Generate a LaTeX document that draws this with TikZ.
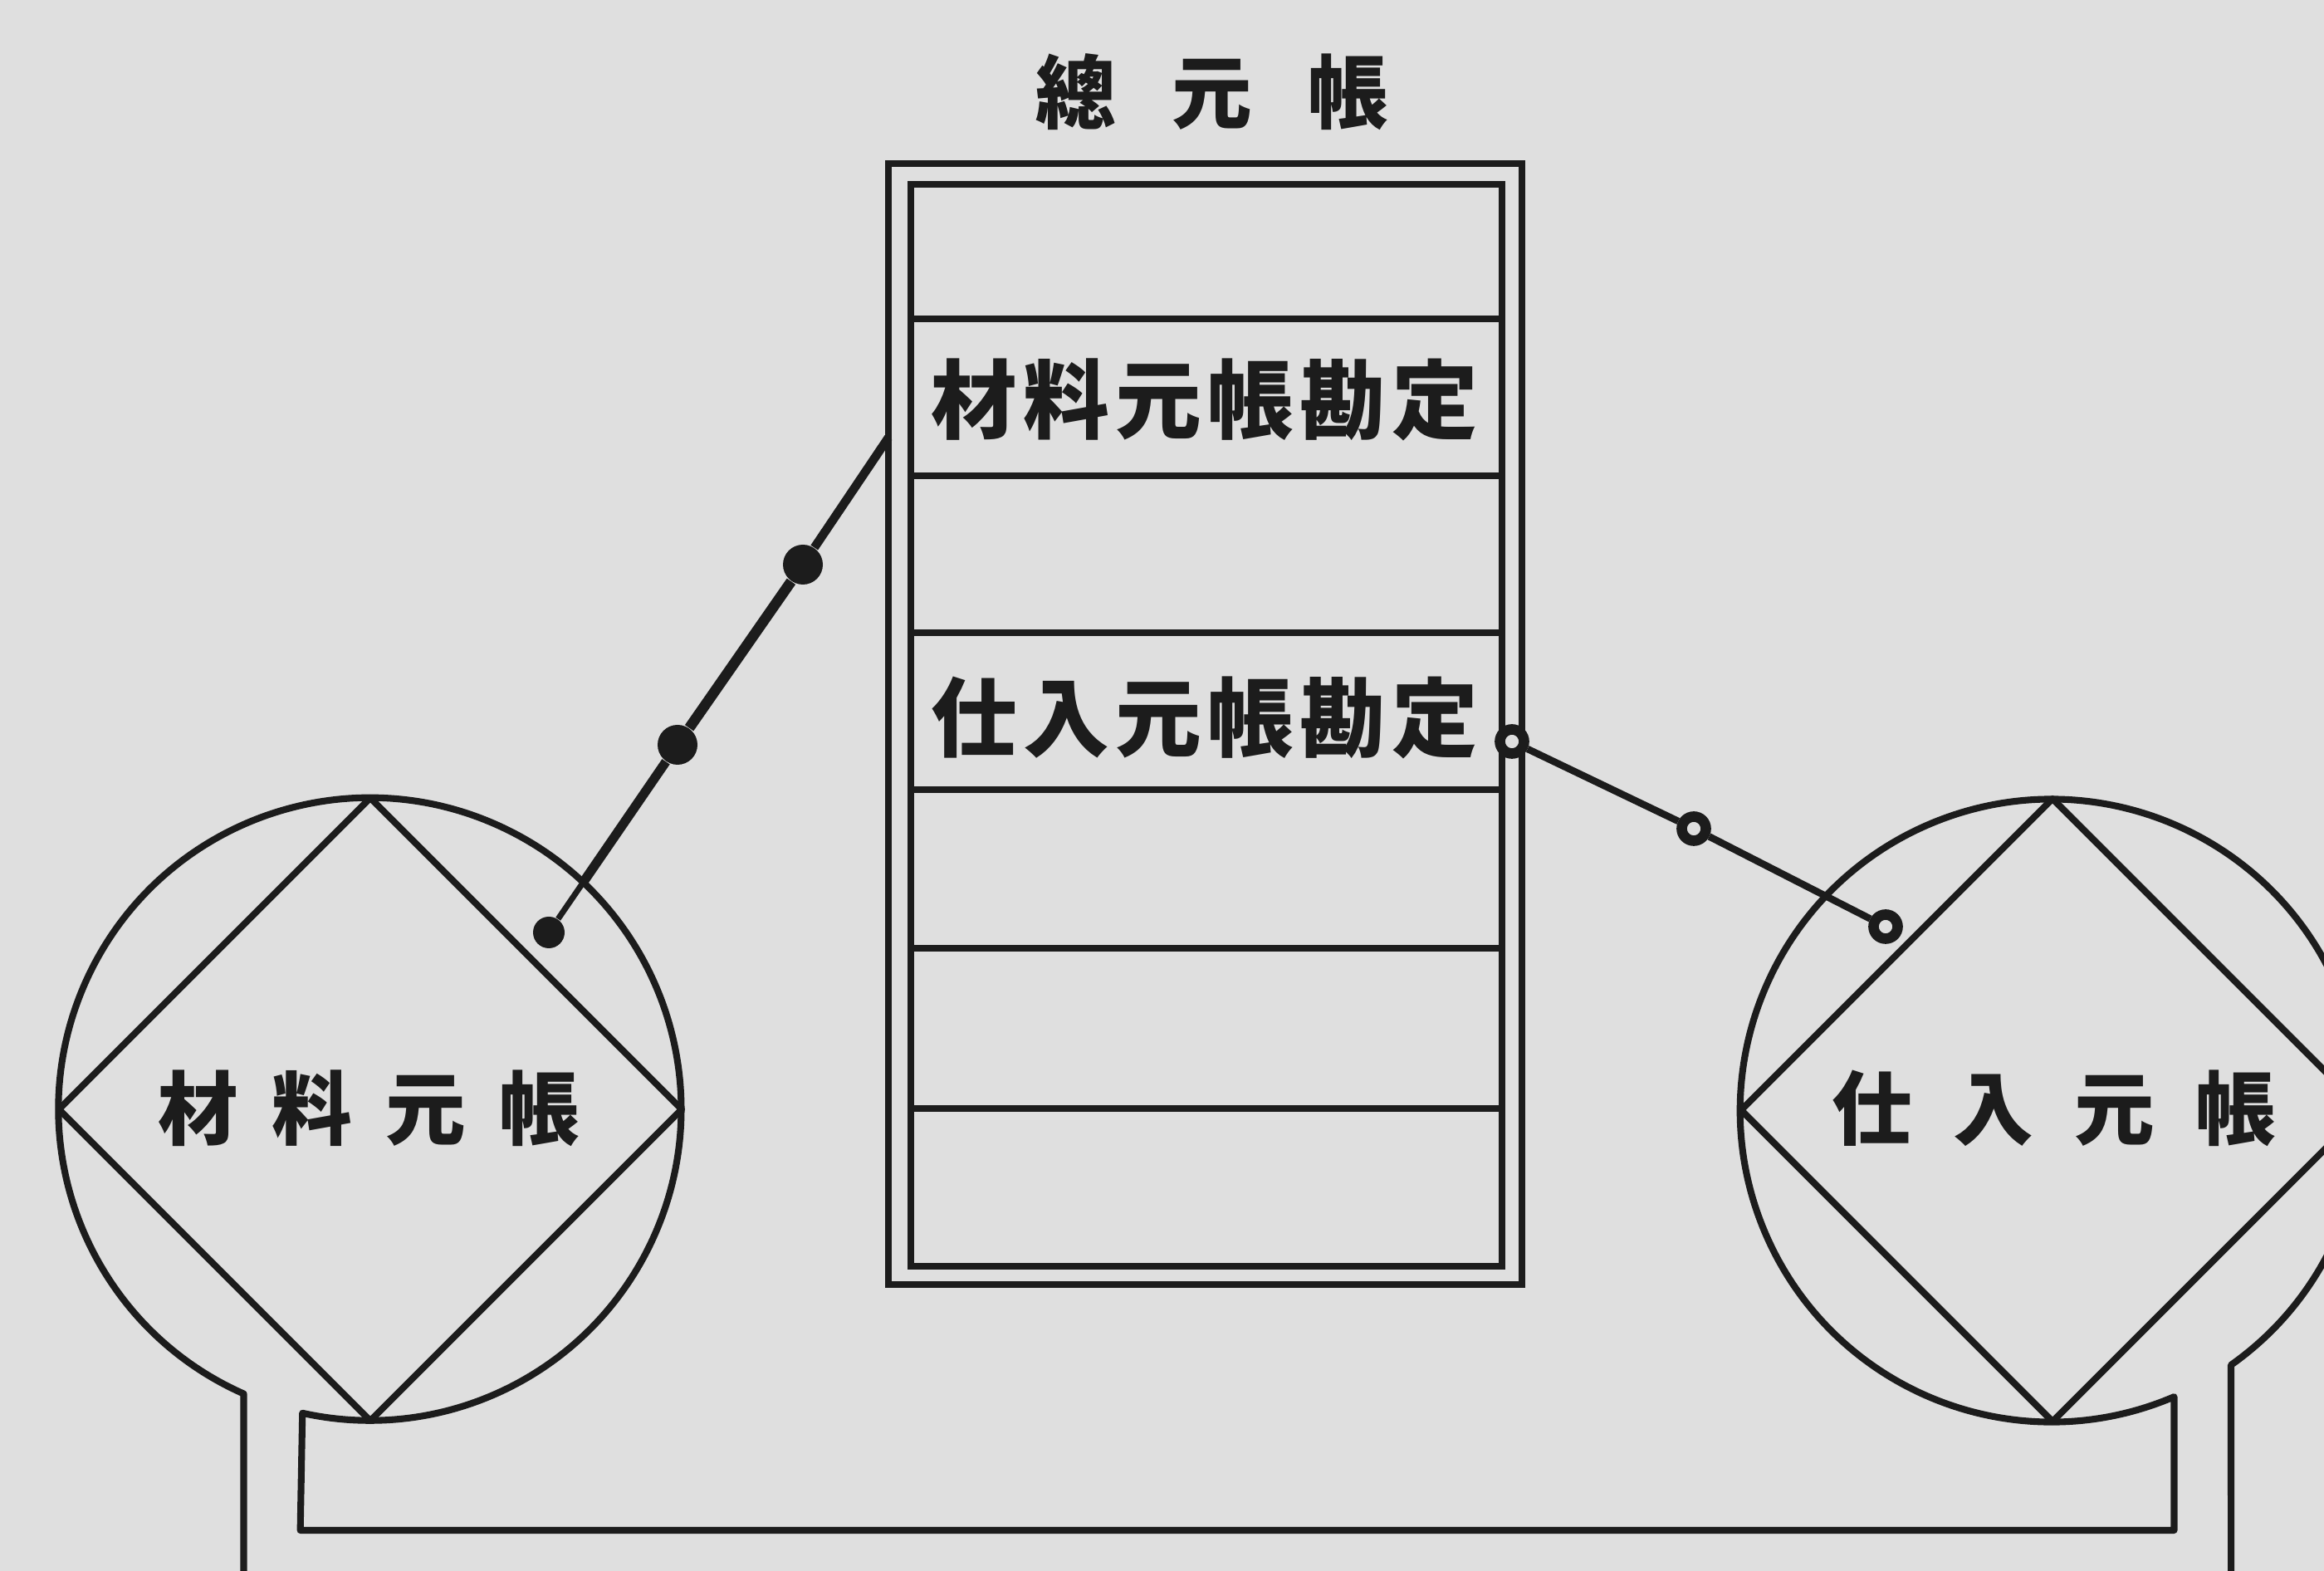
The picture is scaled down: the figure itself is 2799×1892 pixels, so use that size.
\documentclass[tikz,border=0pt]{standalone}
\usepackage{fontspec}
\usetikzlibrary{calc}
\newfontfamily\cjk{Noto Sans CJK JP}
\newlength\cbw
\newcommand\cb[1]{\makebox[\cbw]{#1}}
\definecolor{paper}{RGB}{223,223,223}
\definecolor{ink}{RGB}{28,28,28}
\tikzset{
  wall/.style={draw=ink, line width=2.3pt, line join=round},
  divider/.style={draw=ink, line width=2.4pt},
  lbl/.style={font=\cjk\bfseries\fontsize{27.5}{30}\selectfont, text=ink, inner sep=0pt},
  rowlbl/.style={font=\cjk\bfseries\fontsize{29.5}{32}\selectfont, text=ink, inner sep=0pt},
  ring/.style={circle, draw=ink, line width=3.6pt, minimum size=2.9mm, inner sep=0pt, fill=paper},
  blob/.style={circle, fill=ink, minimum size=4.8mm, inner sep=0pt},
  endblob/.style={circle, fill=ink, minimum size=3.8mm, inner sep=0pt},
  disc/.style={circle, draw=none, minimum size=75mm, inner sep=0pt, outer sep=0pt},
  frame/.style={draw=ink, line width=2.3pt, inner sep=0pt, outer sep=0pt},
}
\begin{document}
\begin{tikzpicture}[x=0.1mm,y=0.1mm]
\fill[paper] (0,0) rectangle (2799,1892);
\useasboundingbox (0,0) rectangle (2799,1892);

% title
\node[lbl] (title) at (1460,1781) {\setlength\cbw{16.4mm}\cb{總}\cb{元}\cb{帳}};

% general ledger box
\node[frame, minimum width=76.3mm, minimum height=135mm] (outer) at (1451.5,1020) {};
\node[frame, minimum width=71.2mm, minimum height=130.3mm] (inner) at (1453,1018.5) {};
\foreach \yy in {1508,1319,1130,941,750,557}
  \draw[divider] (inner.west |- 0,\yy) -- (inner.east |- 0,\yy);
\node[rowlbl] (rowA) at (1451,1411) {\setlength\cbw{11.1mm}\cb{材}\cb{料}\cb{元}\cb{帳}\cb{勘}\cb{定}};
\node[rowlbl] (rowB) at (1451,1028) {\setlength\cbw{11.1mm}\cb{仕}\cb{入}\cb{元}\cb{帳}\cb{勘}\cb{定}};

% ledger circles
\node[disc] (L) at (446,556) {};
\node[disc] (R) at (2472,555) {};
\draw[wall] (L.north) -- (L.east) -- (L.south) -- (L.west) -- cycle;
\draw[wall] (R.north) -- (R.east) -- (R.south) -- (R.west) -- cycle;
\node[lbl] (lt) at (444,557) {\setlength\cbw{13.7mm}\cb{材}\cb{料}\cb{元}\cb{帳}};
\node[lbl] (rt) at (2474,557) {\setlength\cbw{14.6mm}\cb{仕}\cb{入}\cb{元}\cb{帳}};

% circles and the pipe joining the two ledgers, as one outline
\draw[wall] (L.246.1 |- 0,-20) -- (L.246.1)
  arc[start angle=246.1, end angle=-102.5, radius=37.5mm]
  -- (L.257.5 |- 0,49) -- (R.293.2 |- 0,49) -- (R.293.2)
  arc[start angle=293.2, end angle=-54.8, radius=37.5mm]
  -- (R.305.2 |- 0,-20);

% left connector
\coordinate (ls) at (outer.west |- 0,1365);
\node[blob] (ld1) at (967,1212) {};
\node[blob] (ld2) at (816,995) {};
\node[endblob] (lend) at (661,769) {};
\coordinate (lx) at ($(ld2.center)!0.73!(lend.center)$);
\draw[ink, line width=3.0pt] (ls) -- (ld1);
\draw[ink, line width=3.6pt] (ld1) -- (ld2);
\draw[ink, line width=3.2pt] (ld2) -- (lx);
\draw[ink, line width=2.0pt] (lx) -- (lend);

% right connector
\node[ring] (rs) at (1821,999) {};
\node[ring] (rm) at (2040,894) {};
\node[ring] (rend) at (2271,776) {};
\draw[ink, line width=2.4pt] (rs) -- (rm);
\draw[ink, line width=2.4pt] (rm) -- (rend);
\end{tikzpicture}
\end{document}
